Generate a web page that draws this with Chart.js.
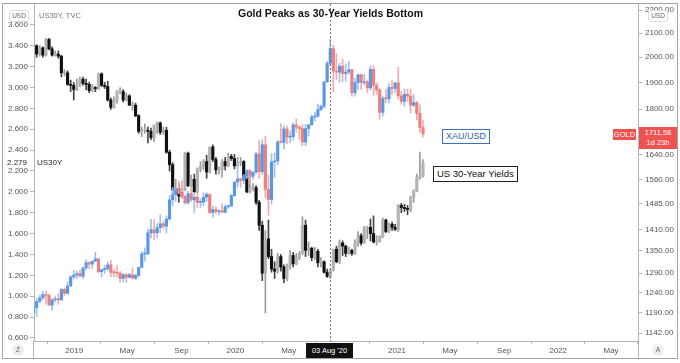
<!DOCTYPE html>
<html>
<head>
<meta charset="utf-8">
<script src="https://cdn.jsdelivr.net/npm/chart.js@4.4.1/dist/chart.umd.min.js"></script>
<style>
  html, body { margin: 0; padding: 0; background: #fff; }
  #wrap { position: relative; width: 680px; height: 363px; font-family: "Liberation Sans", Arial, sans-serif; overflow: hidden; }
  #chart { position: absolute; left: 0; top: 0; }
  .frame { position: absolute; left: 2px; top: 3px; width: 676px; height: 356px; box-sizing: border-box; border: 1px solid #a4a4a4; pointer-events: none; }
  .lbl { position: absolute; white-space: nowrap; line-height: 1; }
  .title { left: 238px; top: 8px; font-size: 10.5px; font-weight: bold; color: #111; }
  .legend { left: 39px; top: 12px; font-size: 7.5px; color: #777; }
  .usd { top: 10px; width: 18px; height: 10px; border: 1px solid #ddd; border-radius: 3px; background: #fff; font-size: 6.5px; color: #666; text-align: center; line-height: 10px; }
  .box { font-size: 9px; padding: 2px 3px; background: #fff; }
  .xau { left: 442px; top: 129px; border: 1px solid #3f6fc9; color: #2f5fb8; }
  .us30 { left: 433px; top: 166px; border: 1.5px solid #222; color: #111; font-size: 9.5px; }
  .tag { background: #ef5350; color: #fff; font-size: 7.5px; text-align: center; }
  .round { width: 12px; height: 12px; border-radius: 6px; background: #eeeeee; color: #666; font-size: 6.5px; text-align: center; line-height: 12px; }
  .cross { left: 306px; top: 343px; width: 47px; height: 15px; background: #111; color: #fff; font-size: 7.5px; text-align: center; line-height: 15px; }
</style>
</head>
<body>
<div id="wrap">
  <canvas id="chart" width="680" height="363"></canvas>
  <div class="frame"></div>
  <div class="lbl title">Gold Peaks as 30-Year Yields Bottom</div>
  <div class="lbl legend">US30Y, TVC</div>
  <div class="lbl usd" style="left:9px">USD</div>
  <div class="lbl usd" style="left:648px">USD</div>
  <div class="lbl box xau">XAU/USD</div>
  <div class="lbl box us30">US 30-Year Yields</div>
  <div class="lbl" id="yieldVal" style="left:7px; font-size:8px; color:#222">2.279</div>
  <div class="lbl" id="yieldName" style="left:37px; font-size:8px; color:#222">US30Y</div>
  <div class="lbl tag" id="goldName" style="left:613px; width:23px; height:11px; line-height:11px">GOLD</div>
  <div class="lbl tag" id="goldVal" style="left:639px; width:38px; height:21px; line-height:10px; padding-top:1px">1711.58<br>1d 23h</div>
  <div class="lbl cross">03 Aug '20</div>
  <div class="lbl round" style="left:12px; top:344px">Z</div>
  <div class="lbl round" style="left:652px; top:344px">A</div>
</div>
<script>
// weekly candles, first one is the week of 1 Oct 2018
const firstWeek = '2018-10-01';

// US30Y weekly [open, high, low, close]
const yieldOHLC = [
  [3.21,3.42,3.19,3.40],[3.40,3.41,3.29,3.32],[3.32,3.40,3.30,3.38],[3.38,3.39,3.29,3.31],
  [3.31,3.47,3.30,3.46],[3.46,3.47,3.36,3.37],[3.37,3.39,3.30,3.31],[3.31,3.35,3.30,3.32],
  [3.32,3.35,3.28,3.30],[3.30,3.31,3.10,3.14],[3.14,3.17,3.11,3.14],[3.14,3.16,3.02,3.03],
  [3.03,3.07,2.96,3.02],[3.02,3.05,2.88,2.98],
  // 2019
  [2.98,3.08,2.97,3.03],[3.03,3.10,3.01,3.08],[3.08,3.10,3.02,3.04],[3.04,3.08,2.98,3.03],
  [3.03,3.05,2.95,2.97],[2.97,3.03,2.96,3.00],[3.00,3.01,2.96,2.99],[2.99,3.14,2.98,3.13],
  [3.13,3.14,3.01,3.02],[3.02,3.05,2.99,3.01],[3.01,3.06,2.87,2.88],[2.88,2.90,2.79,2.81],
  [2.81,2.91,2.80,2.87],[2.87,2.97,2.85,2.96],[2.96,3.00,2.94,2.96],[2.96,2.98,2.86,2.88],
  [2.88,2.95,2.87,2.92],[2.92,2.93,2.83,2.83],[2.83,2.86,2.78,2.83],[2.83,2.85,2.72,2.73],
  [2.73,2.74,2.56,2.58],[2.58,2.62,2.53,2.59],[2.59,2.65,2.56,2.59],[2.59,2.62,2.47,2.58],
  [2.58,2.61,2.50,2.52],[2.52,2.64,2.48,2.64],[2.64,2.67,2.56,2.66],[2.66,2.67,2.55,2.57],
  [2.57,2.62,2.55,2.59],[2.59,2.62,2.37,2.38],[2.38,2.40,2.20,2.26],[2.26,2.28,1.97,2.02],
  [2.02,2.12,1.98,2.03],[2.03,2.08,1.90,1.96],[1.96,2.04,1.94,2.02],[2.02,2.38,2.01,2.37],
  [2.37,2.38,2.05,2.06],[2.06,2.16,2.05,2.12],[2.12,2.17,1.99,2.00],[2.00,2.23,1.99,2.22],
  [2.22,2.29,2.19,2.24],[2.24,2.31,2.21,2.29],[2.29,2.35,2.13,2.19],[2.19,2.43,2.18,2.43],
  [2.43,2.45,2.29,2.31],[2.31,2.33,2.17,2.21],[2.21,2.24,2.17,2.21],[2.21,2.31,2.14,2.29],
  [2.29,2.33,2.21,2.25],[2.25,2.37,2.24,2.34],[2.34,2.36,2.30,2.32],[2.32,2.36,2.22,2.25],
  // 2020
  [2.25,2.33,2.24,2.28],[2.28,2.33,2.25,2.29],[2.29,2.30,2.12,2.14],[2.14,2.18,1.99,2.00],
  [2.00,2.14,1.99,2.04],[2.04,2.08,2.01,2.04],[2.04,2.06,1.88,1.90],[1.90,1.92,1.63,1.68],
  [1.68,1.72,1.15,1.22],[1.22,1.63,0.84,1.53],[1.55,1.73,1.36,1.38],[1.38,1.45,1.23,1.26],
  [1.26,1.33,1.17,1.24],[1.24,1.41,1.22,1.38],[1.38,1.40,1.24,1.28],[1.28,1.30,1.13,1.17],
  [1.17,1.31,1.15,1.29],[1.29,1.44,1.26,1.39],[1.39,1.42,1.28,1.31],[1.31,1.41,1.30,1.37],
  [1.37,1.43,1.35,1.41],[1.41,1.76,1.40,1.68],[1.68,1.73,1.38,1.44],[1.44,1.52,1.39,1.46],
  [1.46,1.47,1.34,1.37],[1.37,1.47,1.35,1.43],[1.43,1.45,1.28,1.32],[1.32,1.37,1.28,1.33],
  [1.33,1.34,1.22,1.23],[1.23,1.26,1.18,1.19],[1.19,1.26,1.17,1.25],[1.25,1.45,1.24,1.45],
  [1.45,1.48,1.32,1.33],[1.33,1.54,1.31,1.51],[1.51,1.53,1.39,1.48],[1.48,1.49,1.38,1.41],
  [1.41,1.47,1.40,1.44],[1.44,1.45,1.39,1.41],[1.41,1.54,1.40,1.51],[1.51,1.62,1.48,1.58],
  [1.58,1.60,1.49,1.51],[1.51,1.67,1.51,1.65],[1.65,1.67,1.55,1.66],[1.66,1.74,1.53,1.60],
  [1.60,1.77,1.51,1.52],[1.52,1.58,1.49,1.52],[1.52,1.58,1.52,1.57],[1.57,1.75,1.56,1.73],
  [1.73,1.74,1.61,1.62],[1.62,1.70,1.61,1.69],[1.69,1.71,1.63,1.66],[1.66,1.69,1.63,1.64],
  // 2021
  [1.64,1.88,1.62,1.87],[1.87,1.89,1.80,1.85],[1.85,1.88,1.81,1.84],[1.84,1.87,1.78,1.83],
  [1.83,1.96,1.81,1.95],[1.95,2.02,1.90,2.01],[2.01,2.17,2.00,2.14],[2.14,2.38,2.12,2.15],
  [2.15,2.31,2.14,2.279]
];

// XAU/USD weekly [open, high, low, close]
const goldOHLC = [
  [1191,1207,1181,1203],[1203,1226,1182,1218],[1218,1233,1215,1227],[1227,1243,1222,1235],
  [1235,1243,1211,1233],[1233,1237,1208,1209],[1209,1225,1196,1222],[1222,1230,1217,1223],
  [1223,1237,1211,1222],[1222,1250,1221,1248],[1248,1252,1233,1238],[1238,1268,1236,1257],
  [1257,1283,1256,1280],[1280,1298,1276,1285],
  // 2019
  [1285,1296,1276,1289],[1289,1298,1280,1282],[1282,1305,1276,1304],[1304,1326,1298,1318],
  [1318,1320,1302,1314],[1314,1322,1302,1322],[1322,1346,1320,1328],[1328,1330,1290,1294],
  [1294,1300,1280,1299],[1299,1311,1289,1302],[1302,1320,1296,1312],[1312,1324,1281,1292],
  [1292,1300,1281,1291],[1291,1310,1281,1290],[1290,1294,1266,1276],[1276,1289,1267,1286],
  [1286,1289,1266,1279],[1279,1290,1279,1286],[1286,1304,1275,1277],[1277,1287,1273,1284],
  [1284,1306,1280,1305],[1305,1348,1305,1341],[1341,1358,1322,1341],[1341,1411,1340,1400],
  [1400,1439,1386,1409],[1409,1438,1381,1400],[1400,1427,1386,1415],[1415,1453,1401,1426],
  [1426,1434,1411,1419],[1419,1449,1400,1440],[1440,1510,1437,1497],[1497,1535,1480,1513],
  [1513,1531,1492,1527],[1527,1555,1515,1520],[1520,1557,1502,1507],[1507,1511,1484,1488],
  [1488,1523,1484,1516],[1516,1535,1492,1497],[1497,1519,1459,1505],[1505,1517,1474,1489],
  [1489,1500,1474,1490],[1490,1518,1479,1505],[1505,1519,1492,1514],[1514,1515,1456,1459],
  [1459,1478,1445,1468],[1468,1476,1456,1462],[1462,1466,1452,1464],[1464,1485,1458,1460],
  [1460,1482,1457,1476],[1476,1482,1471,1478],[1478,1514,1477,1510],[1510,1553,1508,1552],
  // 2020
  [1552,1611,1536,1562],[1562,1563,1536,1557],[1557,1575,1547,1571],[1571,1591,1563,1589],
  [1589,1592,1548,1570],[1570,1584,1561,1584],[1584,1649,1578,1643],[1643,1689,1564,1585],
  [1585,1692,1575,1674],[1674,1704,1504,1529],[1529,1575,1451,1498],[1498,1644,1484,1617],
  [1617,1646,1567,1620],[1620,1690,1608,1683],[1683,1747,1680,1682],[1682,1739,1660,1729],
  [1729,1738,1677,1700],[1700,1722,1681,1702],[1702,1751,1690,1743],[1743,1765,1718,1735],
  [1735,1740,1693,1730],[1730,1745,1671,1683],[1683,1745,1671,1730],[1730,1745,1704,1743],
  [1743,1779,1742,1771],[1771,1789,1757,1774],[1774,1818,1771,1798],[1798,1815,1793,1810],
  [1810,1903,1803,1902],[1902,1984,1900,1975],[1975,2075,1964,2035],[2035,2049,1863,1944],
  [1944,2015,1911,1940],[1940,1976,1901,1964],[1964,1992,1902,1934],[1934,1973,1906,1940],
  [1940,1983,1932,1950],[1950,1951,1848,1861],[1861,1917,1848,1900],[1900,1933,1873,1930],
  [1930,1933,1873,1899],[1899,1932,1890,1902],[1902,1910,1860,1879],[1879,1965,1870,1951],
  [1951,1965,1850,1889],[1889,1899,1854,1871],[1871,1876,1764,1788],[1788,1848,1774,1839],
  [1839,1875,1823,1838],[1838,1896,1822,1881],[1881,1906,1855,1877],[1877,1900,1862,1898],
  // 2021
  [1898,1959,1836,1849],[1849,1865,1817,1828],[1828,1875,1810,1855],[1855,1875,1829,1848],
  [1848,1875,1785,1814],[1814,1855,1808,1824],[1824,1828,1761,1784],[1784,1816,1717,1734],
  [1734,1760,1700,1711.58]
];

const xTickDates = ['2019-01-01','2019-05-01','2019-09-01','2020-01-01','2020-05-01','2020-09-01',
                    '2021-01-01','2021-05-01','2021-09-01','2022-01-01','2022-05-01'];
const xTickLabels = ['2019','May','Sep','2020','May','Sep','2021','May','Sep','2022','May'];
const yieldTicks = [0.6,0.8,1.0,1.2,1.4,1.6,1.8,2.0,2.2,2.4,2.6,2.8,3.0,3.2,3.4,3.6];
const goldTicks = [2200,2100,2000,1900,1800,1640,1560,1485,1410,1350,1290,1240,1190,1142];
const markerDate = '2020-08-03';
const lastYield = 2.279;
const lastGold = 1711.58;

// visible window
const viewStart = '2018-10-02', viewEnd = '2022-07-01';

const dayOf = s => (Date.parse(s + 'T00:00:00Z') - Date.parse('2019-01-01T00:00:00Z')) / 864e5;
const weekX = yieldOHLC.map((_, i) => dayOf(firstWeek) + 7 * i);

function candles(rows, axis, col, order) {
  const up = rows.map(r => r[3] >= r[0]);
  return [
    {
      data: rows.map((r, i) => ({ x: weekX[i], y: [r[2], r[1]] })),
      yAxisID: axis, grouped: false, barThickness: 1, order: order + 1,
      backgroundColor: up.map(u => u ? col.upWick : col.downWick)
    },
    {
      data: rows.map((r, i) => ({ x: weekX[i], y: [r[0], r[3]] })),
      yAxisID: axis, grouped: false, barThickness: 2.5, minBarLength: 1, order: order,
      backgroundColor: up.map(u => u ? col.upBody : col.downBody)
    }
  ];
}

const noPad = s => { s.paddingTop = 0; s.paddingBottom = 0; s.paddingLeft = 0; s.paddingRight = 0; };
const axisGrey = '#b4b4b4';
const tickFont = { family: '"Liberation Sans", Arial, sans-serif', size: 8 };

const markerLine = {
  id: 'markerLine',
  afterDatasetsDraw(chart) {
    const { ctx, chartArea: a, scales } = chart;
    const px = Math.round(scales.x.getPixelForValue(dayOf(markerDate))) + 0.5;
    ctx.save();
    ctx.strokeStyle = '#777';
    ctx.lineWidth = 1;
    ctx.setLineDash([2, 2]);
    ctx.beginPath();
    ctx.moveTo(px, a.top);
    ctx.lineTo(px, a.bottom);
    ctx.stroke();
    ctx.setLineDash([]);
    // axis separators run down into the time axis band
    ctx.strokeStyle = axisGrey;
    [a.left - 0.5, a.right + 0.5].forEach(x0 => {
      ctx.beginPath();
      ctx.moveTo(x0, a.bottom);
      ctx.lineTo(x0, 358);
      ctx.stroke();
    });
    ctx.restore();
  }
};

const chart = new Chart(document.getElementById('chart'), {
  type: 'bar',
  data: {
    datasets: [
      ...candles(goldOHLC, 'yR', { upBody: '#5a98e3', downBody: '#ec7f7f', upWick: '#9cc2ef', downWick: '#f2aaaa' }, 1),
      ...candles(yieldOHLC, 'yL', { upBody: '#b3b3b3', downBody: '#111111', upWick: '#9a9a9a', downWick: '#444444' }, 3)
    ]
  },
  options: {
    responsive: false,
    animation: false,
    layout: { padding: { left: 3, right: 2, top: 4, bottom: 5 } },
    plugins: { legend: { display: false }, tooltip: { enabled: false } },
    scales: {
      x: {
        type: 'linear', min: dayOf(viewStart), max: dayOf(viewEnd), offset: false,
        grid: { drawOnChartArea: false, tickLength: 3, color: axisGrey },
        border: { color: axisGrey },
        ticks: { autoSkip: false, maxRotation: 0, padding: 2, font: tickFont, color: '#555',
                 callback: (v, i) => xTickLabels[i] },
        afterBuildTicks: s => { s.ticks = xTickDates.map(d => ({ value: dayOf(d) })); },
        afterFit: s => { s.height = 17; noPad(s); }
      },
      yL: {
        type: 'linear', position: 'left', min: 0.571, max: 3.80,
        grid: { drawOnChartArea: false, tickLength: 4, color: axisGrey },
        border: { color: axisGrey },
        ticks: { padding: 2, font: tickFont, color: '#555', callback: v => v.toFixed(3) },
        afterBuildTicks: s => { s.ticks = yieldTicks.map(v => ({ value: v })); },
        afterFit: s => { s.width = 31; noPad(s); }
      },
      yR: {
        type: 'logarithmic', position: 'right', min: 1124, max: 2228,
        grid: { drawOnChartArea: false, tickLength: 4, color: axisGrey },
        border: { color: axisGrey },
        ticks: { padding: 3, font: tickFont, color: '#555', callback: v => Number(v).toFixed(2) },
        afterBuildTicks: s => { s.ticks = goldTicks.map(v => ({ value: v })); },
        afterFit: s => { s.width = 40; noPad(s); }
      }
    }
  },
  plugins: [markerLine]
});

// price tags follow the scales
const yY = chart.scales.yL.getPixelForValue(lastYield);
document.getElementById('yieldVal').style.top = (yY - 4) + 'px';
document.getElementById('yieldName').style.top = (yY - 4) + 'px';
const yG = chart.scales.yR.getPixelForValue(lastGold);
document.getElementById('goldName').style.top = (yG - 5) + 'px';
document.getElementById('goldVal').style.top = (yG - 7) + 'px';
</script>
</body>
</html>
